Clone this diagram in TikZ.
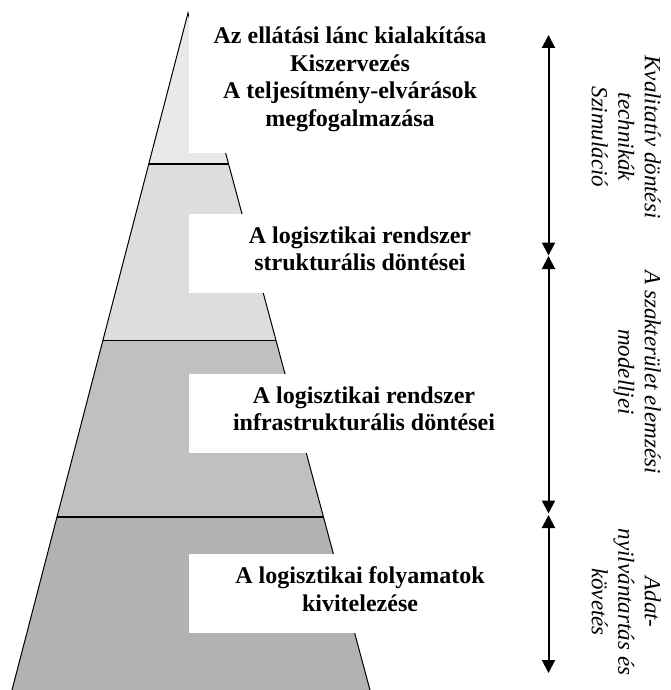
\documentclass[tikz,border=0pt]{standalone}
\usepackage{fontspec}
\setmainfont{Liberation Serif}
\usetikzlibrary{arrows.meta}
\definecolor{layerA}{gray}{0.914}
\definecolor{layerB}{gray}{0.867}
\definecolor{layerC}{gray}{0.753}
\definecolor{layerD}{gray}{0.698}
\begin{document}
\begin{tikzpicture}[x=1pt,y=-1pt,
  edge/.style={line width=1pt, line join=miter},
  divider/.style={line width=1.4pt},
  whitebox/.style={fill=white},
  label/.style={font=\fontsize{24}{27.5}\selectfont\bfseries, align=center, inner sep=0pt, anchor=north},
  sidetext/.style={font=\fontsize{23}{26.5}\selectfont\itshape, align=center, inner sep=0pt, rotate=-90, anchor=north},
  spanarrow/.style={line width=2pt, {Triangle[width=13pt,length=13pt]}-{Triangle[width=13pt,length=13pt]}},
]
\useasboundingbox (0,0) rectangle (670,690);
% pyramid corner points
\coordinate (apex) at (188,13);
\coordinate (l1) at (148.7,164);
\coordinate (r1) at (228.6,164);
\coordinate (l2) at (102.9,340.5);
\coordinate (r2) at (276,340.5);
\coordinate (l3) at (57,517);
\coordinate (r3) at (323.5,517);
\coordinate (bl) at (11.5,692);
\coordinate (br) at (370.5,692);
% layers
\fill[layerA] (apex) -- (l1) -- (r1) -- cycle;
\fill[layerB] (l1) -- (l2) -- (r2) -- (r1) -- cycle;
\fill[layerC] (l2) -- (l3) -- (r3) -- (r2) -- cycle;
\fill[layerD] (l3) -- (bl) -- (br) -- (r3) -- cycle;
\draw[edge] (bl) -- (apex) -- (br);
\draw[divider] (l1) -- (r1);
\draw[divider] (l2) -- (r2);
\draw[divider] (l3) -- (r3);
% white text boxes
\fill[whitebox] (189,0) rectangle (520,153);
\fill[whitebox] (189,214) rectangle (530,293);
\fill[whitebox] (189,374) rectangle (540,453);
\fill[whitebox] (189,554) rectangle (530,633);
% texts
\node[label] (t1) at (350,27) {Az ellátási lánc kialakítása\\Kiszervezés\\A teljesítmény-elvárások\\megfogalmazása};
\node[label] (t2) at (360,226.5) {A logisztikai rendszer\\strukturális döntései};
\node[label] (t3) at (364,386.5) {A logisztikai rendszer\\infrastrukturális döntései};
\node[label] (t4) at (360,566.5) {A logisztikai folyamatok\\kivitelezése};
% range arrows
\coordinate (a0) at (548.5,35);
\coordinate (a1) at (548.5,255.5);
\coordinate (a1b) at (548.5,256);
\coordinate (a2) at (548.5,513.5);
\coordinate (a2b) at (548.5,515);
\coordinate (a3) at (548.5,673);
\draw[spanarrow] (a0) -- (a1);
\draw[spanarrow] (a1b) -- (a2);
\draw[spanarrow] (a2b) -- (a3);
% side labels
\node[sidetext] (s1) at (661,137) {Kvalitatív döntési\\technikák\\Szimuláció};
\node[sidetext] (s2) at (661,372) {A szakterület elemzési\\modelljei};
\node[sidetext] (s3) at (661,602) {Adat-\\nyilvántartás és\\követés};
\end{tikzpicture}
\end{document}
